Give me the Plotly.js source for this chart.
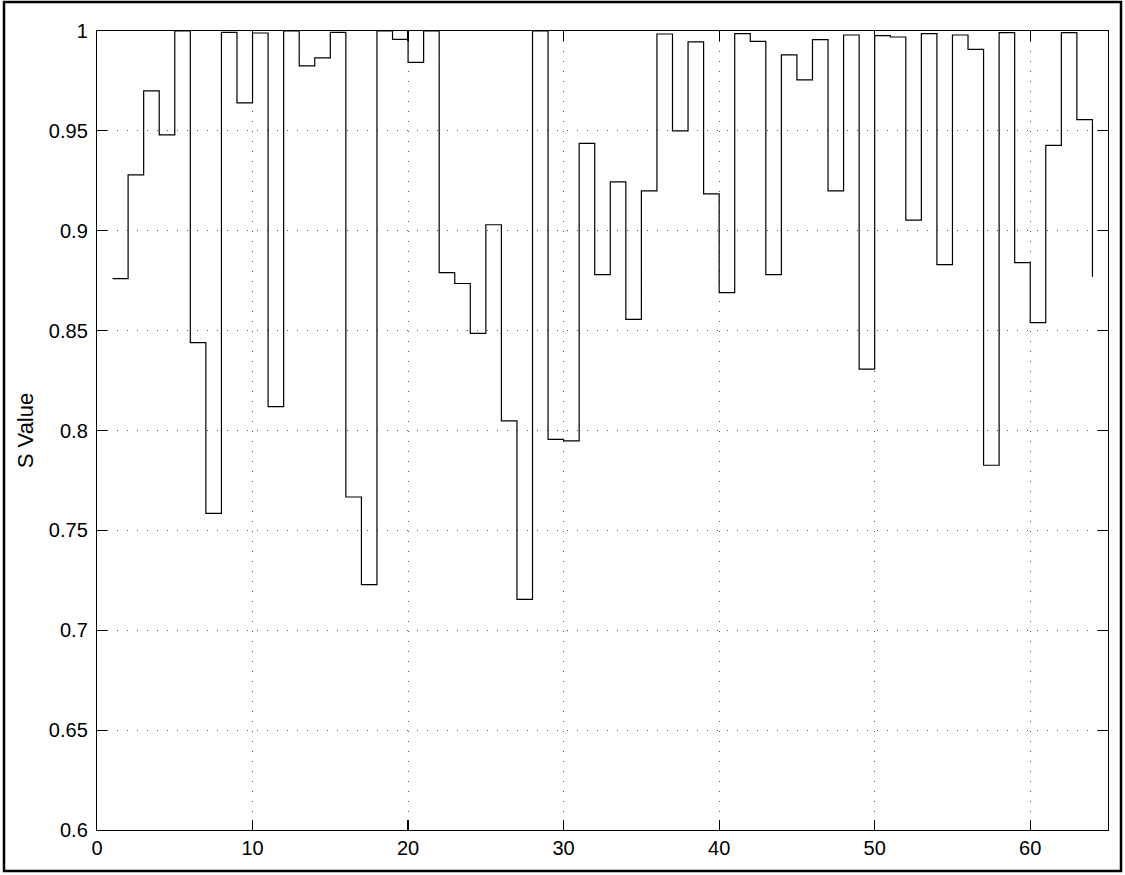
<!DOCTYPE html>
<html>
<head>
<meta charset="utf-8">
<script src="https://cdn.plot.ly/plotly-3.0.1.min.js"></script>
<style>
  html, body { margin: 0; padding: 0; background: #fff; }
  #chart { width: 1125px; height: 875px; }
</style>
</head>
<body>
<div id="chart"></div>
<script>
// Sample index and S value for each of the 64 samples (stairs plot)
const sampleIndex = [
  1, 2, 3, 4, 5, 6, 7, 8, 9, 10, 11, 12, 13, 14, 15, 16,
  17, 18, 19, 20, 21, 22, 23, 24, 25, 26, 27, 28, 29, 30, 31, 32,
  33, 34, 35, 36, 37, 38, 39, 40, 41, 42, 43, 44, 45, 46, 47, 48,
  49, 50, 51, 52, 53, 54, 55, 56, 57, 58, 59, 60, 61, 62, 63, 64
];
const sValues = [
  0.876, 0.928, 0.970, 0.948, 1.000, 0.844, 0.7585, 0.9993,
  0.964, 0.999, 0.812, 1.000, 0.9825, 0.9865, 0.9993, 0.7667,
  0.7228, 1.000, 0.9958, 0.9843, 1.000, 0.879, 0.8736, 0.8486,
  0.903, 0.8048, 0.7155, 1.000, 0.7956, 0.7948, 0.9437, 0.878,
  0.9245, 0.8556, 0.920, 0.9985, 0.950, 0.9946, 0.9185, 0.869,
  0.9987, 0.9948, 0.878, 0.988, 0.9755, 0.9957, 0.920, 0.998,
  0.8307, 0.9977, 0.9970, 0.9053, 0.9987, 0.883, 0.998, 0.9908,
  0.7826, 0.9992, 0.884, 0.854, 0.9427, 0.9992, 0.9556, 0.877
];

// Axis ticks
const xTicks = [0, 10, 20, 30, 40, 50, 60];
const xTickText = ['0', '10', '20', '30', '40', '50', '60'];
const yTicks = [0.6, 0.65, 0.7, 0.75, 0.8, 0.85, 0.9, 0.95, 1];
const yTickText = ['0.6', '0.65', '0.7', '0.75', '0.8', '0.85', '0.9', '0.95', '1'];

const FONT = 'Liberation Sans, Arial, Helvetica, sans-serif';

const trace = {
  x: sampleIndex,
  y: sValues,
  type: 'scatter',
  mode: 'lines',
  line: { shape: 'hv', color: '#000000', width: 1.2 },
  hoverinfo: 'x+y',
  showlegend: false
};

const gridCommon = {
  showgrid: true,
  gridcolor: '#555555',
  gridwidth: 1,
  griddash: '1px,9px',
  zeroline: false,
  showline: true,
  linecolor: '#000000',
  linewidth: 1.2,
  mirror: 'allticks',
  ticks: 'inside',
  ticklen: 10,
  tickwidth: 1.2,
  tickcolor: '#000000',
  tickfont: { family: FONT, size: 20, color: '#000000' }
};

const layout = {
  width: 1125,
  height: 875,
  paper_bgcolor: '#ffffff',
  plot_bgcolor: '#ffffff',
  margin: { l: 97, r: 17, t: 31, b: 45, pad: 0 },
  font: { family: FONT, size: 20, color: '#000000' },
  xaxis: Object.assign({}, gridCommon, {
    range: [0, 65],
    tickmode: 'array',
    tickvals: xTicks,
    ticktext: xTickText,
    ticklabelstandoff: 0
  }),
  yaxis: Object.assign({}, gridCommon, {
    range: [0.6, 1],
    tickmode: 'array',
    tickvals: yTicks,
    ticktext: yTickText,
    ticklabelstandoff: 4,
    title: { text: 'S Value', font: { family: FONT, size: 22, color: '#000000' }, standoff: 9 }
  }),
  shapes: [
    {
      // outer figure frame
      type: 'rect',
      xref: 'paper', yref: 'paper',
      x0: (4 - 97) / 1011, x1: (1121 - 97) / 1011,
      y0: (830 - 871) / 799, y1: (830 - 2) / 799,
      line: { color: '#000000', width: 2.5 },
      fillcolor: 'rgba(0,0,0,0)',
      layer: 'above'
    }
  ]
};

Plotly.newPlot('chart', [trace], layout, { staticPlot: true, displayModeBar: false });
</script>
</body>
</html>
